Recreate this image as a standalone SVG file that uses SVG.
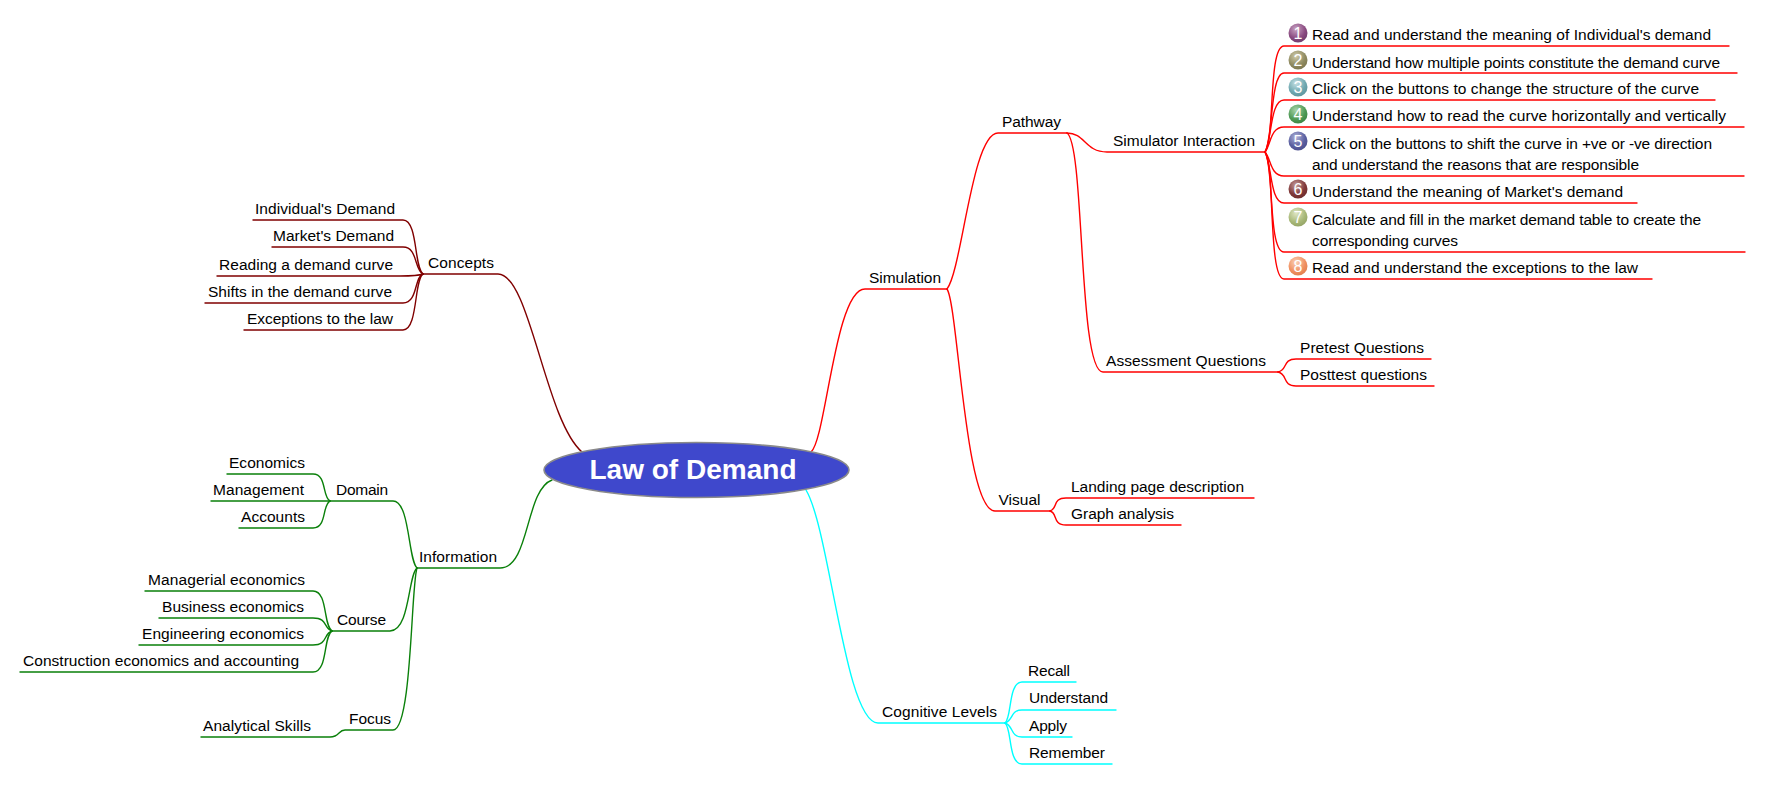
<svg xmlns="http://www.w3.org/2000/svg" width="1772" height="793" viewBox="0 0 1772 793">
<style>
text{font-family:"Liberation Sans",Arial,sans-serif;font-size:15.5px;fill:#000}
.c{fill:none;stroke-width:1.4;stroke-linecap:round}
.r{stroke:#f00}.m{stroke:#800000}.g{stroke:#0a800a}.y{stroke:#0ff}
text.d{fill:#fff;font-size:16px;text-anchor:middle}
text.t{fill:#fff;font-size:28px;font-weight:bold}
</style>
<defs>
<radialGradient id="i1" cx=".4" cy=".3" r=".8"><stop offset="0" stop-color="#c9a5c4"/><stop offset=".6" stop-color="#8a4a80"/><stop offset="1" stop-color="#6a3a66"/></radialGradient>
<radialGradient id="i2" cx=".4" cy=".3" r=".8"><stop offset="0" stop-color="#cfcbaa"/><stop offset=".6" stop-color="#8f8a60"/><stop offset="1" stop-color="#77724c"/></radialGradient>
<radialGradient id="i3" cx=".4" cy=".3" r=".8"><stop offset="0" stop-color="#c6e0e3"/><stop offset=".6" stop-color="#6fa8b0"/><stop offset="1" stop-color="#5a9098"/></radialGradient>
<radialGradient id="i4" cx=".4" cy=".3" r=".8"><stop offset="0" stop-color="#a9d4ab"/><stop offset=".6" stop-color="#4f9a55"/><stop offset="1" stop-color="#3a8040"/></radialGradient>
<radialGradient id="i5" cx=".4" cy=".3" r=".8"><stop offset="0" stop-color="#b0b3d8"/><stop offset=".6" stop-color="#5a5fa0"/><stop offset="1" stop-color="#484c88"/></radialGradient>
<radialGradient id="i6" cx=".4" cy=".3" r=".8"><stop offset="0" stop-color="#c49c9c"/><stop offset=".6" stop-color="#803838"/><stop offset="1" stop-color="#682a2a"/></radialGradient>
<radialGradient id="i7" cx=".4" cy=".3" r=".8"><stop offset="0" stop-color="#dfe6c4"/><stop offset=".6" stop-color="#a8b878"/><stop offset="1" stop-color="#8e9e60"/></radialGradient>
<radialGradient id="i8" cx=".4" cy=".3" r=".8"><stop offset="0" stop-color="#fad2b8"/><stop offset=".6" stop-color="#f09060"/><stop offset="1" stop-color="#dc7a48"/></radialGradient>
</defs>
<g id="connectors">
<path class="c r" d="M811 452C826 440 835 289 865 289L947 289"/>
<path class="c r" d="M947 289C962 270 972 133 998 133L1067 133"/>
<path class="c r" d="M947 289C958 305 965 511 995 511L1050 511"/>
<path class="c r" d="M1067 133C1085 133 1085 152 1107 152L1265 152"/>
<path class="c r" d="M1067 133C1085 145 1078 372 1103 372L1278 372"/>
<path class="c r" d="M1278 372C1288 370 1282 359 1296 359L1431 359"/>
<path class="c r" d="M1278 372C1288 374 1282 386 1296 386L1434 386"/>
<path class="c r" d="M1050 511C1058 509 1052 498 1066 498L1254 498"/>
<path class="c r" d="M1050 511C1058 513 1052 525 1066 525L1181 525"/>
<path class="c r" d="M1265 152C1275 140 1268 46 1284 46L1729 46"/>
<path class="c r" d="M1265 152C1273 140 1270 73 1284 73L1737 73"/>
<path class="c r" d="M1265 152C1272 140 1270 100 1284 100L1715 100"/>
<path class="c r" d="M1265 152C1271 145 1270 127 1284 127L1744 127"/>
<path class="c r" d="M1265 152C1271 158 1270 176 1284 176L1744 176"/>
<path class="c r" d="M1265 152C1272 165 1270 203 1284 203L1637 203"/>
<path class="c r" d="M1265 152C1274 165 1268 252 1284 252L1745 252"/>
<path class="c r" d="M1265 152C1275 165 1268 279 1284 279L1652 279"/>
<path class="c y" d="M806 490C830 530 845 723 878 723L1005 723"/>
<path class="c y" d="M1005 723C1012 718 1008 682 1022 682L1076 682"/>
<path class="c y" d="M1005 723C1014 720 1010 710 1022 710L1116 710"/>
<path class="c y" d="M1005 723C1014 726 1010 737 1022 737L1072 737"/>
<path class="c y" d="M1005 723C1012 728 1008 764 1022 764L1112 764"/>
<path class="c m" d="M582 452C545 420 530 274 498 274L423 274"/>
<path class="c m" d="M423 274C414 268 418 220 403 220L253 220"/>
<path class="c m" d="M423 274C414 270 418 247 403 247L272 247"/>
<path class="c m" d="M423 274C418 276 410 276 400 276L217 276"/>
<path class="c m" d="M423 274C414 277 418 303 403 303L205 303"/>
<path class="c m" d="M423 274C414 280 418 330 403 330L244 330"/>
<path class="c g" d="M552 480C525 490 530 568 500 568L417 568"/>
<path class="c g" d="M417 568C408 560 410 501 393 501L330 501"/>
<path class="c g" d="M417 568C408 575 410 631 390 631L332 631"/>
<path class="c g" d="M417 568C411 585 412 730 393 730L345 730C338 730 340 737 330 737L201 737"/>
<path class="c g" d="M330 501C322 497 327 474 313 474L227 474"/>
<path class="c g" d="M330 501L211 501"/>
<path class="c g" d="M330 501C322 505 327 528 313 528L239 528"/>
<path class="c g" d="M332 631C323 625 328 591 313 591L145 591"/>
<path class="c g" d="M332 631C323 628 328 618 313 618L159 618"/>
<path class="c g" d="M332 631C323 634 328 645 313 645L139 645"/>
<path class="c g" d="M332 631C323 637 328 672 313 672L20 672"/>
</g>
<g id="root"><ellipse cx="696.5" cy="470" rx="152.5" ry="27.5" fill="#3f48cc" stroke="#8a8a8a" stroke-width="1.6"/><text class="t" x="589.5" y="479" textLength="207">Law of Demand</text></g>
<g id="simulation"><text x="869" y="283" textLength="72">Simulation</text></g>
<g id="pathway"><text x="1002" y="127" textLength="59">Pathway</text></g>
<g id="simulator-interaction"><text x="1113" y="146" textLength="142">Simulator Interaction</text></g>
<g id="step1"><circle cx="1298" cy="33" r="9.5" fill="url(#i1)"/><text class="d" x="1298" y="39">1</text><text x="1312" y="40" textLength="399">Read and understand the meaning of Individual's demand</text></g>
<g id="step2"><circle cx="1298" cy="60" r="9.5" fill="url(#i2)"/><text class="d" x="1298" y="66">2</text><text x="1312" y="68" textLength="408">Understand how multiple points constitute the demand curve</text></g>
<g id="step3"><circle cx="1298" cy="87" r="9.5" fill="url(#i3)"/><text class="d" x="1298" y="93">3</text><text x="1312" y="94" textLength="387">Click on the buttons to change the structure of the curve</text></g>
<g id="step4"><circle cx="1298" cy="114" r="9.5" fill="url(#i4)"/><text class="d" x="1298" y="120">4</text><text x="1312" y="121" textLength="414">Understand how to read the curve horizontally and vertically</text></g>
<g id="step5"><circle cx="1298" cy="141" r="9.5" fill="url(#i5)"/><text class="d" x="1298" y="147">5</text><text x="1312" y="149" textLength="400">Click on the buttons to shift the curve in +ve or -ve direction</text><text x="1312" y="170" textLength="327">and understand the reasons that are responsible</text></g>
<g id="step6"><circle cx="1298" cy="189" r="9.5" fill="url(#i6)"/><text class="d" x="1298" y="195">6</text><text x="1312" y="197" textLength="311">Understand the meaning of Market's demand</text></g>
<g id="step7"><circle cx="1298" cy="217" r="9.5" fill="url(#i7)"/><text class="d" x="1298" y="223">7</text><text x="1312" y="225" textLength="389">Calculate and fill in the market demand table to create the</text><text x="1312" y="246" textLength="146">corresponding curves</text></g>
<g id="step8"><circle cx="1298" cy="266" r="9.5" fill="url(#i8)"/><text class="d" x="1298" y="272">8</text><text x="1312" y="273" textLength="326">Read and understand the exceptions to the law</text></g>
<g id="assessment"><text x="1106" y="366" textLength="160">Assessment Questions</text></g>
<g id="pretest"><text x="1300" y="353" textLength="124">Pretest Questions</text></g>
<g id="posttest"><text x="1300" y="380" textLength="127">Posttest questions</text></g>
<g id="visual"><text x="998.5" y="505" textLength="42">Visual</text></g>
<g id="landing"><text x="1071" y="492" textLength="173">Landing page description</text></g>
<g id="graph"><text x="1071" y="519" textLength="103">Graph analysis</text></g>
<g id="cognitive"><text x="882" y="717" textLength="115">Cognitive Levels</text></g>
<g id="recall"><text x="1028" y="676" textLength="42">Recall</text></g>
<g id="understand"><text x="1029" y="703" textLength="79">Understand</text></g>
<g id="apply"><text x="1029" y="731" textLength="38">Apply</text></g>
<g id="remember"><text x="1029" y="758" textLength="76">Remember</text></g>
<g id="concepts"><text x="428" y="268" textLength="66">Concepts</text></g>
<g id="individual"><text x="255" y="214" textLength="140">Individual's Demand</text></g>
<g id="market"><text x="273" y="241" textLength="121">Market's Demand</text></g>
<g id="reading"><text x="219" y="270" textLength="174">Reading a demand curve</text></g>
<g id="shifts"><text x="208" y="297" textLength="184">Shifts in the demand curve</text></g>
<g id="exceptions"><text x="247" y="324" textLength="146">Exceptions to the law</text></g>
<g id="information"><text x="419" y="562" textLength="78">Information</text></g>
<g id="domain"><text x="336" y="495" textLength="52">Domain</text></g>
<g id="economics"><text x="229" y="468" textLength="76">Economics</text></g>
<g id="management"><text x="213" y="495" textLength="91">Management</text></g>
<g id="accounts"><text x="241" y="522" textLength="64">Accounts</text></g>
<g id="course"><text x="337" y="625" textLength="49">Course</text></g>
<g id="managerial"><text x="148" y="585" textLength="157">Managerial economics</text></g>
<g id="business"><text x="162" y="612" textLength="142">Business economics</text></g>
<g id="engineering"><text x="142" y="639" textLength="162">Engineering economics</text></g>
<g id="construction"><text x="23" y="666" textLength="276">Construction economics and accounting</text></g>
<g id="focus"><text x="349" y="724" textLength="42">Focus</text></g>
<g id="analytical"><text x="203" y="731" textLength="108">Analytical Skills</text></g>
</svg>
